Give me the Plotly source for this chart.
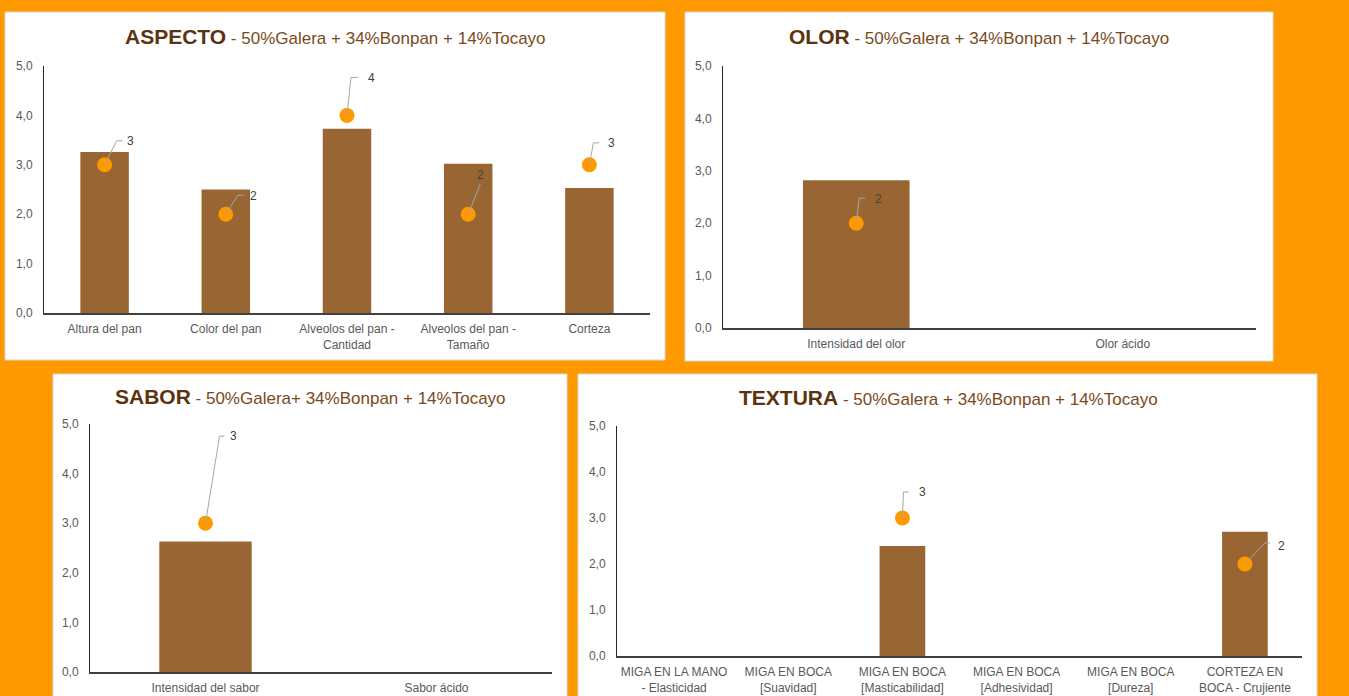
import plotly.graph_objects as go

W, H = 1349, 696

# ---- data -------------------------------------------------------------
aspecto_cats = ["Altura del pan", "Color del pan", "Alveolos del pan -<br>Cantidad",
                "Alveolos del pan -<br>Tamaño", "Corteza"]
aspecto_media = [3.26, 2.50, 3.73, 3.02, 2.53]
aspecto_moda = [3, 2, 4, 2, 3]

olor_cats = ["Intensidad del olor", "Olor ácido"]
olor_media = [2.82, None]
olor_moda = [2, None]

sabor_cats = ["Intensidad del sabor", "Sabor ácido"]
sabor_media = [2.63, None]
sabor_moda = [3, None]

textura_cats = ["MIGA EN LA MANO<br>- Elasticidad", "MIGA EN BOCA<br>[Suavidad]",
                "MIGA EN BOCA<br>[Masticabilidad]", "MIGA EN BOCA<br>[Adhesividad]",
                "MIGA EN BOCA<br>[Dureza]", "CORTEZA EN<br>BOCA - Crujiente"]
textura_media = [None, None, 2.39, None, None, 2.70]
textura_moda = [None, None, 3, None, None, 2]

y_ticks = [0, 1, 2, 3, 4, 5]

# ---- styling ----------------------------------------------------------
BG = "#FF9900"
BAR = "#996633"
DOT = "#FF9900"
LEADER = "#A6A6A6"
TICK = "#595959"
LABEL = "#404040"
TITLE_B = "#5A340E"
TITLE_S = "#7A4A1C"
FONT = "Arial, Liberation Sans, sans-serif"


def fx(px):
    return px / W


def fy(py):
    return 1 - py / H


# panel geometry (pixels): white card, plot area, title centre
panels = [
    dict(name="ASPECTO", sub=" - 50%Galera + 34%Bonpan + 14%Tocayo",
         cats=aspecto_cats, media=aspecto_media, moda=aspecto_moda,
         card=(5, 12, 665, 360), plot=(44, 66, 650, 313), title=(335, 37),
         # leader path offsets (elbow, end) and label offset, in pixels (y up)
         leaders=[((12, 24), (18, 24), (26, 24)), ((12, 19), (18, 19), (28, 18)),
                  ((4, 38), (11, 38), (24, 37)), ((12, 30), None, (12, 39)),
                  ((4, 22), (10, 22), (22, 22))]),
    dict(name="OLOR", sub=" - 50%Galera + 34%Bonpan + 14%Tocayo",
         cats=olor_cats, media=olor_media, moda=olor_moda,
         card=(685, 12, 1273, 361), plot=(723, 66, 1256, 328), title=(979, 37),
         leaders=[((3, 25), (9, 25), (22, 24)), None]),
    dict(name="SABOR", sub=" - 50%Galera+ 34%Bonpan + 14%Tocayo",
         cats=sabor_cats, media=sabor_media, moda=sabor_moda,
         card=(53, 374, 567, 700), plot=(90, 424, 552, 672), title=(310, 396),
         leaders=[((14, 87), (19, 87), (28, 87)), None]),
    dict(name="TEXTURA", sub=" - 50%Galera + 34%Bonpan + 14%Tocayo",
         cats=textura_cats, media=textura_media, moda=textura_moda,
         card=(578, 374, 1317, 700), plot=(617, 426, 1302, 656), title=(948, 397),
         leaders=[None, None, ((1, 26), (6, 26), (20, 26)), None, None,
                  ((20, 21), (25, 21), (37, 18))]),
]

fig = go.Figure()
shapes = []
annotations = []
layout_axes = {}

for i, p in enumerate(panels, start=1):
    xa = "x" if i == 1 else f"x{i}"
    ya = "y" if i == 1 else f"y{i}"
    x0, y0, x1, y1 = p["plot"]

    fig.add_trace(go.Bar(x=p["cats"], y=p["media"], marker=dict(color=BAR, line=dict(width=0)),
                         xaxis=xa, yaxis=ya, showlegend=False, hoverinfo="x+y"))
    fig.add_trace(go.Scatter(x=p["cats"], y=p["moda"], mode="markers",
                             marker=dict(color=DOT, size=15, line=dict(width=0)),
                             xaxis=xa, yaxis=ya, showlegend=False, hoverinfo="x+y"))

    layout_axes["xaxis" if i == 1 else f"xaxis{i}"] = dict(
        domain=[fx(x0), fx(x1)], anchor=ya, type="category",
        categoryorder="array", categoryarray=p["cats"], automargin=False,
        showline=True, linecolor="#404040", linewidth=2, ticks="",
        ticklabelstandoff=4,
        tickfont=dict(family=FONT, size=12, color=TICK), showgrid=False,
        zeroline=False, fixedrange=True)
    layout_axes["yaxis" if i == 1 else f"yaxis{i}"] = dict(
        domain=[fy(y1), fy(y0)], anchor=xa, range=[0, 5], tickvals=y_ticks,
        tickformat=".1f", showline=True, linecolor="#262626", linewidth=1,
        ticks="", ticklabelstandoff=8, showgrid=False, zeroline=False,
        automargin=False,
        tickfont=dict(family=FONT, size=12, color=TICK), fixedrange=True)

    cx0, cy0, cx1, cy1 = p["card"]
    shapes.append(dict(type="rect", xref="paper", yref="paper", layer="below",
                       x0=fx(cx0), x1=fx(cx1), y0=fy(cy1), y1=fy(cy0),
                       fillcolor="white", line=dict(color="#D9D9D9", width=1)))

    tx, ty = p["title"]
    annotations.append(dict(
        xref="paper", yref="paper", x=fx(tx), y=fy(ty), showarrow=False,
        xanchor="center", yanchor="middle",
        text=(f'<b><span style="font-size:21px;color:{TITLE_B}">{p["name"]}</span></b>'
              f'<span style="font-size:17px;color:{TITLE_S}">{p["sub"]}</span>'),
        font=dict(family=FONT, size=17, color=TITLE_S)))

    for cat, val, ld in zip(p["cats"], p["moda"], p["leaders"]):
        if val is None or ld is None:
            continue
        elbow, end, lab = ld
        path = f"M 0,0 L {elbow[0]},{elbow[1]}"
        if end is not None:
            path += f" L {end[0]},{end[1]}"
        shapes.append(dict(type="path", xref=xa, yref=ya,
                           xsizemode="pixel", ysizemode="pixel",
                           xanchor=cat, yanchor=val, path=path,
                           line=dict(color=LEADER, width=1), layer="above"))
        annotations.append(dict(xref=xa, yref=ya, x=cat, y=val, text=str(val),
                                showarrow=False, xshift=lab[0], yshift=lab[1],
                                xanchor="center", yanchor="middle",
                                font=dict(family=FONT, size=12, color=LABEL)))

fig.update_layout(
    width=W, height=H, margin=dict(l=0, r=0, t=0, b=0, autoexpand=False),
    paper_bgcolor=BG, plot_bgcolor="white", bargap=0.6,
    separators=",.", shapes=shapes, annotations=annotations,
    font=dict(family=FONT), **layout_axes)

page_css = (
    "var s=document.createElement('style');"
    "s.textContent='html,body{margin:0;padding:0;overflow:hidden;background:#FF9900}';"
    "document.head.appendChild(s);"
)
fig.write_html("out.html", post_script=page_css)
